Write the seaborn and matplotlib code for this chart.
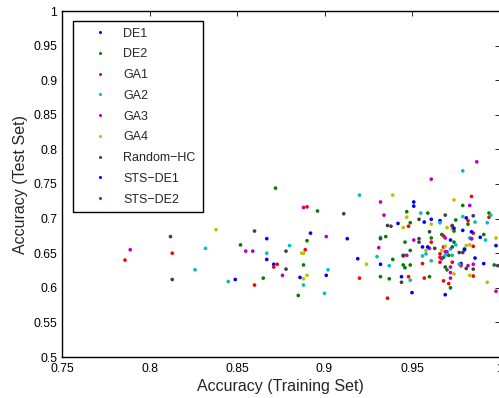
import matplotlib
matplotlib.use("Agg")
import matplotlib.pyplot as plt
import pandas as pd
import seaborn as sns
from matplotlib.lines import Line2D

methods = ["DE1", "DE2", "GA1", "GA2", "GA3", "GA4", "Random−HC", "STS−DE1", "STS−DE2"]
colors = ["#0000ff", "#008000", "#ff0000", "#00bfbf", "#bf00bf", "#bfbf00",
          "#404040", "#0000ff", "#008000"]

de1_train = [0.951, 0.981, 0.966, 0.942, 0.979, 0.892, 0.984, 0.972, 0.956, 0.980,
             0.986, 0.978, 0.932, 0.901, 0.950, 0.867, 0.871]
de1_test = [0.724, 0.701, 0.697, 0.693, 0.683, 0.679, 0.671, 0.669, 0.659, 0.656,
            0.643, 0.635, 0.634, 0.618, 0.593, 0.671, 0.634]

de2_train = [0.979, 0.947, 0.994, 0.949, 0.974, 0.991, 0.935, 0.974, 0.949, 0.968,
             0.945, 0.946, 0.888, 0.932, 0.960, 0.885, 0.852]
de2_test = [0.719, 0.710, 0.708, 0.694, 0.682, 0.677, 0.674, 0.666, 0.654, 0.644,
            0.633, 0.629, 0.633, 0.616, 0.616, 0.589, 0.662]

ga1_train = [0.984, 0.890, 0.994, 0.982, 0.948, 0.973, 0.985, 0.968, 0.961, 0.968,
             0.985, 0.889, 0.966, 0.945, 0.966, 0.966, 0.973, 0.956, 0.978, 0.985,
             0.920, 0.948, 0.957, 0.968, 0.971, 0.936, 0.813, 0.786, 0.873, 0.871, 0.860]
ga1_test = [0.732, 0.717, 0.702, 0.697, 0.689, 0.689, 0.679, 0.675, 0.666, 0.659,
            0.660, 0.655, 0.649, 0.646, 0.644, 0.637, 0.637, 0.635, 0.632, 0.617,
            0.614, 0.616, 0.614, 0.610, 0.606, 0.585, 0.650, 0.640, 0.634, 0.630, 0.604]

ga2_train = [0.979, 0.920, 0.955, 0.995, 0.979, 0.986, 0.966, 0.993, 0.983, 0.932,
             0.992, 0.880, 0.975, 0.972, 0.958, 0.969, 0.973, 0.956, 0.930, 0.961,
             0.977, 0.937, 0.902, 0.949, 0.888, 0.900, 0.832, 0.867, 0.826, 0.845]
ga2_test = [0.769, 0.734, 0.708, 0.705, 0.703, 0.695, 0.694, 0.694, 0.672, 0.673,
            0.669, 0.661, 0.662, 0.656, 0.649, 0.647, 0.647, 0.646, 0.645, 0.639,
            0.634, 0.632, 0.626, 0.611, 0.604, 0.592, 0.657, 0.650, 0.626, 0.609]

ga3_train = [0.987, 0.961, 0.932, 0.983, 0.888, 0.934, 0.969, 0.984, 0.901, 0.951,
             0.960, 0.931, 0.970, 0.969, 0.947, 0.967, 0.982, 0.985, 0.972, 0.876,
             0.972, 0.972, 0.998, 0.789, 0.855, 0.859]
ga3_test = [0.782, 0.757, 0.724, 0.719, 0.716, 0.705, 0.672, 0.671, 0.674, 0.669,
            0.657, 0.658, 0.652, 0.652, 0.647, 0.642, 0.632, 0.634, 0.630, 0.618,
            0.622, 0.614, 0.595, 0.655, 0.653, 0.653]

ga4_train = [0.939, 0.974, 0.947, 0.961, 0.945, 0.970, 0.973, 0.998, 0.969, 0.983,
             0.981, 0.887, 0.888, 0.967, 0.958, 0.924, 0.974, 0.983, 0.890, 0.888,
             0.993, 0.838]
ga4_test = [0.734, 0.727, 0.702, 0.692, 0.687, 0.687, 0.685, 0.672, 0.660, 0.662,
            0.661, 0.650, 0.650, 0.654, 0.654, 0.634, 0.620, 0.618, 0.618, 0.613,
            0.608, 0.684]

rhc_train = [0.911, 0.969, 0.985, 0.954, 0.973, 0.936, 0.938, 0.960, 0.954, 0.932,
             0.954, 0.878, 0.973, 0.963, 0.977, 0.979, 0.945, 0.969, 0.981, 0.985,
             0.999, 0.878, 0.944, 0.860, 0.812, 0.813]
rhc_test = [0.707, 0.705, 0.704, 0.699, 0.690, 0.690, 0.689, 0.681, 0.671, 0.671,
            0.666, 0.653, 0.659, 0.657, 0.651, 0.651, 0.647, 0.630, 0.628, 0.627,
            0.632, 0.627, 0.608, 0.682, 0.674, 0.612]

stsde1_train = [0.951, 0.961, 0.957, 0.974, 0.984, 0.989, 0.913, 0.998, 0.959, 0.980,
                0.919, 0.991, 0.886, 0.944, 0.969, 0.867, 0.849]
stsde1_test = [0.718, 0.699, 0.695, 0.686, 0.681, 0.673, 0.671, 0.661, 0.659, 0.655,
               0.642, 0.635, 0.615, 0.616, 0.590, 0.641, 0.612]

stsde2_train = [0.896, 0.959, 0.975, 0.982, 0.967, 0.961, 0.946, 0.890, 0.971, 0.939,
                0.949, 0.997, 0.970, 0.937, 0.972, 0.872, 0.865]
stsde2_test = [0.711, 0.708, 0.698, 0.692, 0.677, 0.672, 0.666, 0.668, 0.647, 0.641,
               0.633, 0.633, 0.626, 0.613, 0.600, 0.744, 0.614]

train = [de1_train, de2_train, ga1_train, ga2_train, ga3_train, ga4_train,
         rhc_train, stsde1_train, stsde2_train]
test = [de1_test, de2_test, ga1_test, ga2_test, ga3_test, ga4_test,
        rhc_test, stsde1_test, stsde2_test]

frames = [pd.DataFrame({"train": tr, "test": te, "method": m})
          for m, tr, te in zip(methods, train, test)]
df = pd.concat(frames, ignore_index=True)

sns.set_style("white")
plt.rcParams["font.family"] = ["Liberation Sans", "DejaVu Sans"]

fig = plt.figure(figsize=(4.99, 3.98), dpi=100)
ax = fig.add_axes([62 / 499, 41 / 398, 437.5 / 499, 346 / 398])

sns.scatterplot(data=df, x="train", y="test", hue="method", hue_order=methods,
                palette=dict(zip(methods, colors)), s=7, linewidth=0,
                marker="o", legend=False, ax=ax)

ax.set_xlim(0.75, 1.0)
ax.set_ylim(0.5, 1.0)
ax.set_xticks([0.75, 0.8, 0.85, 0.9, 0.95, 1.0])
ax.set_xticklabels(["0.75", "0.8", "0.85", "0.9", "0.95", "1"])
ax.set_yticks([0.5, 0.55, 0.6, 0.65, 0.7, 0.75, 0.8, 0.85, 0.9, 0.95, 1.0])
ax.set_yticklabels(["0.5", "0.55", "0.6", "0.65", "0.7", "0.75", "0.8",
                    "0.85", "0.9", "0.95", "1"])
ax.tick_params(direction="in", length=3.5, width=0.6, labelsize=8.8,
               top=True, right=True, colors="black")
ax.tick_params(axis="y", pad=3.5)
ax.tick_params(axis="x", pad=4.5)
for sp in ax.spines.values():
    sp.set_visible(True)
    sp.set_color("black")
    sp.set_linewidth(1.0)

ax.set_xlabel("Accuracy (Training Set)", fontsize=11.5, labelpad=2.5)
ax.set_ylabel("Accuracy (Test Set)", fontsize=11.5, labelpad=4)

handles = [Line2D([0], [0], linestyle="none", marker="o", markersize=2.2,
                  markeredgewidth=0, color=c) for c in colors]
leg = ax.legend(handles, methods, loc="upper left",
                bbox_to_anchor=(10.7 / 437.5, 1 - 9.7 / 346), borderaxespad=0,
                fontsize=9, frameon=True, fancybox=False, framealpha=1,
                edgecolor="black", borderpad=0.55, labelspacing=0.7,
                handlelength=3.3, handletextpad=0.2)
leg.get_frame().set_linewidth(1.0)

fig.savefig("out.png", dpi=100)
